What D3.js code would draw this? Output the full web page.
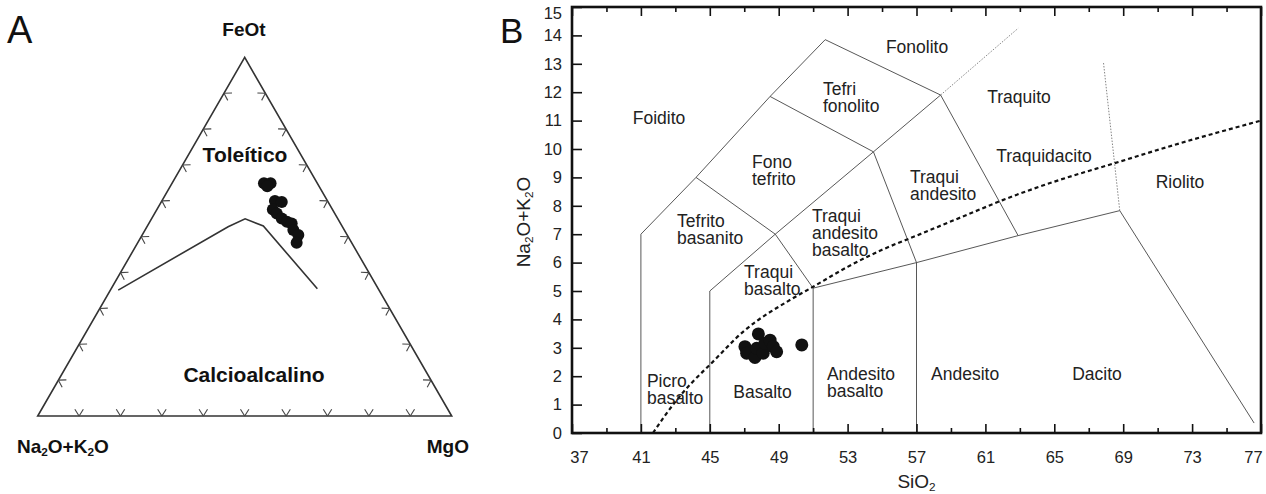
<!DOCTYPE html>
<head>
<meta charset="utf-8">
<style>
body { margin: 0; background: #fff; }
svg { display: block; font-family: "Liberation Sans", Arial, sans-serif; }
.tri { fill: none; stroke: #333; stroke-width: 1.6; }
.afmline { fill: none; stroke: #333; stroke-width: 1.6; }
.field { fill: none; stroke: #444; stroke-width: 0.9; }
.dots { fill: none; stroke: #666; stroke-width: 0.8; stroke-dasharray: 1.5,1.5; }
.curve { fill: none; stroke: #111; stroke-width: 2.2; stroke-dasharray: 4,3; }
.axis text { font-size: 16.5px; fill: #222; font-family: "Liberation Sans", Arial, sans-serif; }
.axis line { stroke: #111; stroke-width: 1.6; }
.axis path { display: none; }
.lbl { font-size: 17.5px; fill: #222; }
</style>
</head>
<body>
<script src="https://cdnjs.cloudflare.com/ajax/libs/d3/7.8.5/d3.min.js"></script>
<script>

// ---- A: AFM ternary, values in % [FeOt, Na2O+K2O, MgO]
var afmSamples = [
  [64.9, 12.9, 22.2], [64.9, 11.3, 23.8], [64.1, 12.5, 23.4],
  [60.0, 12.7, 27.3], [59.7, 11.2, 29.1], [57.6, 14.4, 28.0],
  [56.5, 14.0, 29.5], [55.1, 13.5, 31.4], [54.2, 12.7, 33.1],
  [53.7, 11.8, 34.5], [51.9, 12.3, 35.8], [50.5, 11.8, 37.7],
  [48.3, 13.3, 38.4]
];
// tholeiitic / calc-alkaline divide
var afmDivide = [
  [35.1, 63.0, 1.9], [52.8, 27.6, 19.6], [55.0, 22.4, 22.6],
  [53.0, 19.0, 28.0], [35.5, 14.7, 49.8]
];
var afmTicks = [10, 20, 30, 40, 50, 60, 70, 80, 90];

// ---- B: TAS, SiO2 vs Na2O+K2O (wt%)
var tasSiO2   = [47.04, 47.14, 47.62, 47.72, 47.82, 48.1, 48.2, 48.5, 48.69, 48.88, 50.34];
var tasAlkali = [3.04, 2.81, 2.66, 2.98, 3.49, 2.81, 3.16, 3.27, 3.04, 2.86, 3.1];

var xMajor = d3.range(37, 78, 4);
var xMinor = d3.range(39, 78, 4);
var yTicks = d3.range(0, 16);

var fieldLines = [
  [[41,0],[41,7],[44.2,9],[48.5,11.85],[51.7,13.85],[58.4,11.9],[62.9,6.95],[68.8,7.83],[76.6,0.35]],
  [[48.5,11.85],[54.5,9.9],[58.4,11.9]],
  [[44.2,9],[48.8,7.0],[51,5.1],[51,0]],
  [[45,0],[45,5],[48.8,7.0]],
  [[48.8,7.0],[54.5,9.9],[57,6.0],[57,0]],
  [[51,5.1],[57,6.0],[62.9,6.95]]
];
var dottedLines = [
  [[58.4,11.9],[62.9,14.25]],
  [[68.8,7.83],[67.85,13.07]]
];
var alkalineCurve = [
  [41.7,0],[43,1.1],[44,1.8],[45,2.4],[47,3.6],[49.7,4.7],[51,5.15],[53,5.85],
  [55,6.45],[57,6.95],[60,7.7],[62,8.2],[65,8.85],[68.5,9.5],[72,10.15],[77,11.0]
];
var fieldNames = [
  {t: ["Fonolito"], x: 57.03, y: 13.38, a: "middle"},
  {t: ["Tefri", "fonolito"], x: 51.57, y: 11.9, a: "start"},
  {t: ["Foidito"], x: 42.05, y: 10.88, a: "middle"},
  {t: ["Fono", "tefrito"], x: 47.45, y: 9.33, a: "start"},
  {t: ["Tefrito", "basanito"], x: 43.1, y: 7.25, a: "start"},
  {t: ["Traqui", "basalto"], x: 46.99, y: 5.46, a: "start"},
  {t: ["Traqui", "andesito", "basalto"], x: 50.93, y: 7.43, a: "start"},
  {t: ["Traqui", "andesito"], x: 56.62, y: 8.8, a: "start"},
  {t: ["Traquito"], x: 62.95, y: 11.62, a: "middle"},
  {t: ["Traquidacito"], x: 64.4, y: 9.54, a: "middle"},
  {t: ["Riolito"], x: 72.3, y: 8.63, a: "middle"},
  {t: ["Picro", "basalto"], x: 41.35, y: 1.62, a: "start"},
  {t: ["Basalto"], x: 48.06, y: 1.23, a: "middle"},
  {t: ["Andesito", "basalto"], x: 51.8, y: 1.87, a: "start"},
  {t: ["Andesito"], x: 59.82, y: 1.87, a: "middle"},
  {t: ["Dacito"], x: 67.48, y: 1.87, a: "middle"}
];

var width = 1266, height = 494;
var svg = d3.select("body").append("svg")
    .attr("width", width)
    .attr("height", height);

// ================= panel A =================
var ox = 37.7, oy = 416, side = 414;
var s = d3.scaleLinear().domain([0, 100]).range([0, side]);
var r3 = Math.sqrt(3) / 2;
function tern(d) { // d = [F, A, M]
  return [ox + s(d[2]) + s(d[0]) / 2, oy - s(d[0]) * r3];
}

var gA = svg.append("g");
gA.append("path").attr("class", "tri")
  .attr("d", "M" + [tern([0,100,0]), tern([0,0,100]), tern([100,0,0])].join("L") + "Z");

// V-shaped ticks opening inward on each side
var edges = [
  {from: [0,100,0], to: [0,0,100], n: [0, -1]},       // bottom
  {from: [0,100,0], to: [100,0,0], n: [r3, 0.5]},     // left
  {from: [0,0,100], to: [100,0,0], n: [-r3, 0.5]}     // right
];
var tickLen = 8, ang = 32 * Math.PI / 180;
edges.forEach(function(e) {
  afmTicks.forEach(function(t) {
    var p = tern(e.from.map(function(v, i) { return v + (e.to[i] - v) * t / 100; }));
    [-ang, ang].forEach(function(a) {
      var dx = e.n[0] * Math.cos(a) - e.n[1] * Math.sin(a),
          dy = e.n[0] * Math.sin(a) + e.n[1] * Math.cos(a);
      gA.append("line")
        .attr("x1", p[0]).attr("y1", p[1])
        .attr("x2", p[0] + dx * tickLen).attr("y2", p[1] + dy * tickLen)
        .attr("stroke", "#444").attr("stroke-width", 1.1);
    });
  });
});

gA.append("path").attr("class", "afmline")
  .attr("d", d3.line()(afmDivide.map(tern)));

gA.selectAll("circle").data(afmSamples).enter().append("circle")
  .attr("cx", function(d) { return tern(d)[0]; })
  .attr("cy", function(d) { return tern(d)[1]; })
  .attr("r", 6)
  .attr("fill", "#111");

gA.append("text").attr("x", 7).attr("y", 43).attr("font-size", 38).attr("fill", "#111").text("A");
gA.append("text").attr("x", 244).attr("y", 36).attr("text-anchor", "middle")
  .attr("font-size", 19).attr("font-weight", "bold").attr("fill", "#111").text("FeOt");
gA.append("text").attr("x", 245).attr("y", 162).attr("text-anchor", "middle")
  .attr("font-size", 21).attr("font-weight", "bold").attr("fill", "#111").text("Toleítico");
gA.append("text").attr("x", 254).attr("y", 382).attr("text-anchor", "middle")
  .attr("font-size", 21).attr("font-weight", "bold").attr("fill", "#111").text("Calcioalcalino");
gA.append("text").attr("x", 469).attr("y", 453).attr("text-anchor", "end")
  .attr("font-size", 19).attr("font-weight", "bold").attr("fill", "#111").text("MgO");

function alkLabel(sel) {
  sel.append("tspan").text("Na");
  sel.append("tspan").attr("font-size", "0.62em").attr("dy", "0.25em").text("2");
  sel.append("tspan").attr("dy", "-0.16em").text("O+K");
  sel.append("tspan").attr("font-size", "0.62em").attr("dy", "0.25em").text("2");
  sel.append("tspan").attr("dy", "-0.16em").text("O");
}
gA.append("text").attr("x", 17).attr("y", 453)
  .attr("font-size", 19).attr("font-weight", "bold").attr("fill", "#111")
  .call(alkLabel);

// ================= panel B =================
var x = d3.scaleLinear().domain([37, 77]).range([572, 1261]);
var y = d3.scaleLinear().domain([0, 15]).range([433, 7]);
var line = d3.line().x(function(d) { return x(d[0]); }).y(function(d) { return y(d[1]); });

var gB = svg.append("g");

gB.selectAll("path.field").data(fieldLines).enter().append("path")
  .attr("class", "field").attr("d", line);
gB.selectAll("path.dots").data(dottedLines).enter().append("path")
  .attr("class", "dots").attr("d", line);
gB.append("path").attr("class", "curve")
  .attr("d", line.curve(d3.curveMonotoneX)(alkalineCurve));
line.curve(d3.curveLinear);

// axes: ticks point inward
gB.append("g").attr("class", "axis").attr("transform", "translate(0,433)")
  .call(d3.axisBottom(x).tickValues(xMajor).tickSizeInner(-9).tickSizeOuter(0).tickPadding(18))
  .selectAll("text")
  .attr("dx", function(d) { return d === 37 ? 7 : d === 77 ? -8 : 0; });
gB.append("g").attr("class", "axis").attr("transform", "translate(0,433)")
  .call(d3.axisBottom(x).tickValues(xMinor).tickSizeInner(-5).tickSizeOuter(0).tickFormat(""));
gB.append("g").attr("class", "axis").attr("transform", "translate(0,7)")
  .call(d3.axisTop(x).tickValues(xMajor).tickSizeInner(-9).tickSizeOuter(0).tickFormat(""));
gB.append("g").attr("class", "axis").attr("transform", "translate(0,7)")
  .call(d3.axisTop(x).tickValues(xMinor).tickSizeInner(-5).tickSizeOuter(0).tickFormat(""));
gB.append("g").attr("class", "axis").attr("transform", "translate(572,0)")
  .call(d3.axisLeft(y).tickValues(yTicks).tickSizeInner(-10).tickSizeOuter(0).tickPadding(10))
  .selectAll("text")
  .attr("dy", function(d) { return d === 15 ? "0.72em" : "0.32em"; });

gB.append("rect")
  .attr("x", x(37)).attr("y", y(15))
  .attr("width", x(77) - x(37)).attr("height", y(0) - y(15))
  .attr("fill", "none").attr("stroke", "#111").attr("stroke-width", 2.6);

gB.selectAll("circle").data(tasSiO2).enter().append("circle")
  .attr("cx", function(d) { return x(d); })
  .attr("cy", function(d, i) { return y(tasAlkali[i]); })
  .attr("r", 6.5)
  .attr("fill", "#111");

var names = gB.selectAll("text.lbl").data(fieldNames).enter().append("text")
  .attr("class", "lbl")
  .attr("text-anchor", function(d) { return d.a; })
  .attr("x", function(d) { return x(d.x); })
  .attr("y", function(d) { return y(d.y); });
names.selectAll("tspan").data(function(d) { return d.t.map(function(t) { return {t: t, x: x(d.x)}; }); })
  .enter().append("tspan")
  .attr("x", function(d) { return d.x; })
  .attr("dy", function(d, i) { return i ? 16.8 : 0; })
  .text(function(d) { return d.t; });

gB.append("text").attr("x", 500).attr("y", 43).attr("font-size", 35).attr("fill", "#111").text("B");

var sio2 = gB.append("text").attr("x", (x(37) + x(77)) / 2).attr("y", 488)
  .attr("text-anchor", "middle").attr("font-size", 19).attr("fill", "#222");
sio2.append("tspan").text("SiO");
sio2.append("tspan").attr("font-size", "0.62em").attr("dy", "0.25em").text("2");

gB.append("text")
  .attr("transform", "translate(530," + (y(7.5) + 2) + ") rotate(-90)")
  .attr("text-anchor", "middle").attr("font-size", 19).attr("fill", "#222")
  .call(alkLabel);

</script>
</body>
</html>
